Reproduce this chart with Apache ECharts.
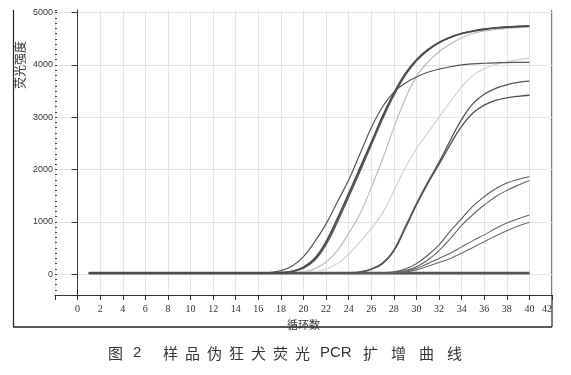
<!DOCTYPE html>
<html><head><meta charset="utf-8">
<script src="https://cdn.jsdelivr.net/npm/echarts@6/dist/echarts.min.js"></script>
<style>html,body{margin:0;padding:0;background:#fff}#c{width:571px;height:375px}</style>
</head><body><div id="c"></div>
<script>
// ---- data ----
const cycles = [1,2,3,4,5,6,7,8,9,10,11,12,13,14,15,16,17,18,19,20,21,22,23,24,25,26,27,28,29,30,31,32,33,34,35,36,37,38,39,40];
const yTicks = [0,1000,2000,3000,4000,5000];
const curveA1 = [20,20,20,20,20,20,20,20,20,20,20,20,20,20,20,20,22,28,55,130,300,620,1060,1540,2030,2520,3020,3460,3830,4100,4290,4430,4530,4600,4645,4680,4705,4720,4732,4740];
const curveA2 = [20,20,20,20,20,20,20,20,20,20,20,20,20,20,20,20,21,25,48,115,270,570,1000,1480,1970,2470,2970,3420,3800,4080,4280,4425,4525,4600,4648,4685,4710,4727,4738,4748];
const curveB  = [20,20,20,20,20,20,20,20,20,20,20,20,20,20,20,20,30,65,155,335,620,960,1380,1800,2300,2800,3200,3480,3650,3770,3860,3920,3965,4000,4020,4032,4040,4045,4048,4050];
const curveC1 = [20,20,20,20,20,20,20,20,20,20,20,20,20,20,20,20,20,20,25,45,100,230,450,780,1150,1650,2200,2800,3350,3780,4050,4250,4400,4520,4600,4650,4680,4700,4712,4722];
const curveC2 = [20,20,20,20,20,20,20,20,20,20,20,20,20,20,20,20,20,20,20,25,45,95,200,380,620,870,1170,1590,2030,2400,2700,3000,3300,3580,3800,3930,4010,4060,4100,4130];
const curveD1 = [20,20,20,20,20,20,20,20,20,20,20,20,20,20,20,20,20,20,20,20,20,20,20,25,40,95,210,460,900,1350,1760,2140,2560,2960,3260,3440,3550,3620,3665,3690];
const curveD2 = [20,20,20,20,20,20,20,20,20,20,20,20,20,20,20,20,20,20,20,20,20,20,20,24,38,90,200,440,870,1320,1730,2100,2480,2830,3080,3230,3320,3370,3400,3420];
const curveE1 = [20,20,20,20,20,20,20,20,20,20,20,20,20,20,20,20,20,20,20,20,20,20,20,20,20,22,28,45,95,200,360,560,820,1060,1300,1480,1630,1740,1810,1860];
const curveE2 = [20,20,20,20,20,20,20,20,20,20,20,20,20,20,20,20,20,20,20,20,20,20,20,20,20,20,25,35,65,140,270,450,680,930,1140,1320,1480,1600,1700,1790];
const curveE3 = [20,20,20,20,20,20,20,20,20,20,20,20,20,20,20,20,20,20,20,20,20,20,20,20,20,20,24,32,55,110,200,300,400,520,640,750,870,975,1060,1130];
const curveE4 = [20,20,20,20,20,20,20,20,20,20,20,20,20,20,20,20,20,20,20,20,20,20,20,20,20,20,20,28,40,80,150,220,300,400,510,620,730,830,920,990];
const negN1   = [15,15,15,15,15,15,15,15,15,15,15,15,15,15,15,15,15,15,15,15,15,15,15,15,15,15,15,15,15,15,15,15,15,15,15,15,15,15,15,15];
const negN2   = [24,24,24,24,24,24,24,24,24,24,24,24,24,24,24,24,24,24,24,24,24,24,24,24,24,24,24,24,24,24,24,24,24,24,24,24,24,24,24,24];
const captionText = ['图','2','样','品','伪','狂','犬','荧','光','PCR','扩','增','曲','线'];

// ---- styles ----
const curves = [
  {d: negN1, c:'#555', w:2.2},
  {d: negN2, c:'#555', w:2.2},
  {d: curveC2, c:'#d2d2d2', w:1.2},
  {d: curveC1, c:'#bcbcbc', w:1.2},
  {d: curveE4, c:'#6a6a6a', w:1.1},
  {d: curveE3, c:'#666', w:1.1},
  {d: curveE2, c:'#666', w:1.1},
  {d: curveE1, c:'#5a5a5a', w:1.1},
  {d: curveD2, c:'#4e4e4e', w:1.3},
  {d: curveD1, c:'#555', w:1.3},
  {d: curveB,  c:'#555', w:1.2},
  {d: curveA2, c:'#5a5a5a', w:1.6},
  {d: curveA1, c:'#4a4a4a', w:1.6}
];

const capX = [108,133,163,185,207,229,251,273,295,320,363,391,419,447];

const chart = echarts.init(document.getElementById('c'), null, {renderer:'canvas'});
const graphics = [
  {type:'line', shape:{x1:13.5,y1:10,x2:13.5,y2:327}, style:{stroke:'#222',lineWidth:1.2}},
  {type:'line', shape:{x1:13,y1:327,x2:552,y2:327}, style:{stroke:'#222',lineWidth:1.3}},
  {type:'line', shape:{x1:552,y1:10,x2:552,y2:327}, style:{stroke:'#222',lineWidth:1.2}},
  {type:'text', x:20, y:65, rotation:Math.PI/2, style:{text:'荧光强度', font:'12px "Noto Sans CJK SC"', fill:'#333', align:'center', verticalAlign:'middle'}}
];
captionText.forEach((t,i)=>{
  graphics.push({type:'text', x:capX[i], y:353, style:{text:t, font:(t==='PCR'||t==='2')?'15px "Liberation Sans"':'15px "Noto Sans CJK SC"', fill:'#333', align:'left', verticalAlign:'middle'}});
});

chart.setOption({
  animation:false,
  backgroundColor:'#fff',
  grid:{left:55, right:19, top:10, bottom:80, containLabel:false, outerBoundsMode:'none'},
  xAxis:{
    type:'value', min:-2, max:42, interval:2,
    name:'循环数', nameLocation:'middle', nameGap:18,
    nameTextStyle:{fontSize:11, color:'#333', fontFamily:'Noto Sans CJK SC'},
    axisLine:{onZero:false, lineStyle:{color:'#333', width:1}},
    axisTick:{show:true, length:5, lineStyle:{color:'#333'}},
    axisLabel:{fontSize:10, color:'#333', fontFamily:'Liberation Serif', margin:9, showMaxLabel:true, showMinLabel:true, alignMaxLabel:'right',
      formatter:v=> v<0 ? '' : String(v)},
    splitLine:{show:true, lineStyle:{color:'#e4e4e4', width:1}}
  },
  yAxis:[{
    type:'value', min:-400, max:5050,
    axisLine:{show:true, lineStyle:{color:'#333', width:1}},
    axisTick:{show:true, length:6, customValues:yTicks, lineStyle:{color:'#333'}},
    axisLabel:{fontSize:9, color:'#333', fontFamily:'Liberation Sans', margin:2, customValues:yTicks, formatter:v=>String(v)},
    splitLine:{show:true, customValues:yTicks, lineStyle:{color:'#e4e4e4', width:1}}
  },{
    type:'value', min:-400, max:5050, interval:100, position:'left', offset:0,
    axisLine:{show:false}, axisLabel:{show:false}, splitLine:{show:false},
    axisTick:{show:true, inside:true, length:2, lineStyle:{color:'#444'}}
  }],
  graphic:graphics,
  series: curves.map(s=>({
    type:'line', smooth:0.4, showSymbol:false, silent:true,
    data: cycles.map((c,i)=>[c, s.d[i]]),
    lineStyle:{color:s.c, width:s.w}, itemStyle:{color:s.c}
  }))
});
</script></body></html>
